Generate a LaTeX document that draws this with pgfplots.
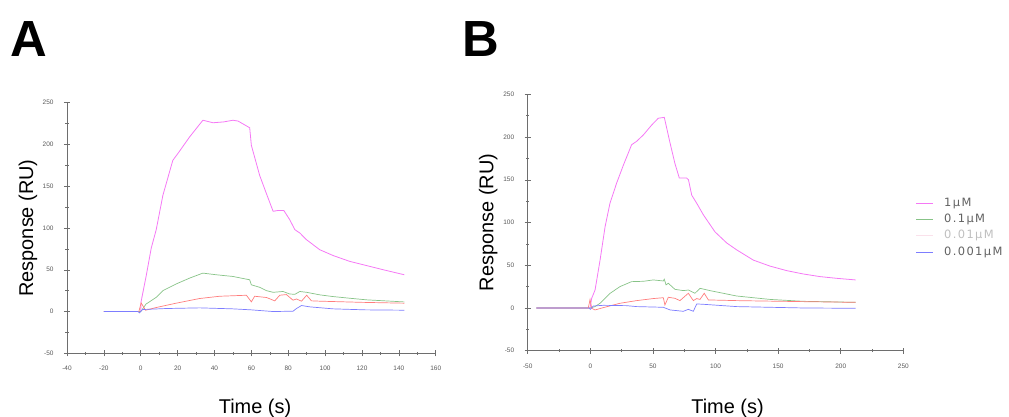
\documentclass[border=0pt]{standalone}
\usepackage{pgfplots}
\pgfplotsset{compat=1.18}
\usepackage{fontspec}
\setmainfont{Liberation Sans}
\newfontfamily\legfont[LetterSpace=12]{DejaVu Sans}

\definecolor{cPink}{RGB}{245,120,245}
\definecolor{cGreen}{RGB}{135,195,135}
\definecolor{cRed}{RGB}{255,125,125}
\definecolor{cBlue}{RGB}{125,125,255}
\definecolor{cFaint}{RGB}{250,225,235}
\definecolor{cAxis}{RGB}{110,110,110}

\pgfplotsset{
  spr/.style={
    scale only axis,
    axis x line*=bottom,
    axis y line*=left,
    axis line style={cAxis, line width=0.6pt},
    every tick/.style={cAxis, line width=0.5pt},
    tick align=center,
    major tick length=6bp,
    minor tick length=3bp,
    minor tick num=1,
    ymin=-50, ymax=250,
    ytick={-50,0,50,...,250},
    tick label style={font=\fontsize{6.5}{7.5}\selectfont, text=black!65},
    /pgf/number format/assume math mode=true,
    xticklabel style={yshift=-6.5bp},
    yticklabel style={xshift=-7bp},
    label style={font=\fontsize{20}{24}\selectfont},
    xlabel={Time (s)},
    ylabel={Response (RU)},
    clip=false,
  },
  pink line/.style={cPink, line width=0.8pt},
  green line/.style={cGreen, line width=0.7pt},
  red line/.style={cRed, line width=0.7pt},
  blue line/.style={cBlue, line width=0.7pt},
}

\begin{document}
\begin{tikzpicture}
\path[use as bounding box] (0bp,0bp) rectangle (1009bp,417bp);

\node[font=\fontsize{51}{52}\selectfont\bfseries] at (28.5bp,378bp) {A};
\node[font=\fontsize{51}{52}\selectfont\bfseries] at (481bp,378bp) {B};

% ---------- panel A ----------
\begin{axis}[spr,
  at={(67bp,63.7bp)}, anchor=south west,
  width=368.7bp, height=250.6bp,
  xmin=-40, xmax=160,
  xtick={-40,-20,...,160},
  xlabel style={at={(axis description cs:0.51,-0.22)}, anchor=center},
  ylabel style={at={(axis description cs:-0.106,0.5)}, anchor=center},
]
\addplot[pink line] coordinates {
 (-20,0) (0,0) (0.2,12) (2.9,42) (5.7,76) (8.4,98) (12,139) (17.4,181)
 (20.1,189) (26.5,209) (33.7,229) (39.2,226) (45,227) (50,229) (52.8,228)
 (59.1,220) (60,199) (64.5,163) (68.2,141) (71.8,120) (74.5,121) (77.6,121)
 (80.8,110) (83.6,98) (86.3,94) (89.9,86) (97.1,74) (104.4,67) (113.4,60)
 (122.5,55) (131.6,50) (143,44)
};
\addplot[green line] coordinates {
 (-20,0) (0,0) (2.9,9) (8.4,17) (12,25) (19.2,33) (26.5,40) (33.7,46)
 (41,44) (50,42) (59.1,38) (60,32) (64.5,29) (68.2,25) (71.8,23) (77.2,24)
 (80.8,21) (83.6,20.6) (86.3,24) (90,23) (97,20) (104,18) (113,16)
 (122.5,14) (143,11.5)
};
\addplot[red line] coordinates {
 (-20,0) (-1,0) (0.2,10.4) (1.5,5.6) (2.6,1.6) (8.4,4.8) (19.2,10) (32,15.6)
 (42.8,18.3) (57.3,19.5) (60,11.6) (61.8,18.3) (68.2,16.8) (72.7,12.8)
 (75.4,19.5) (79,20.3) (82.6,13.6) (84.5,15) (87.2,12.4) (90,19.5)
 (92.6,12.8) (97.1,12.4) (120,11) (143,10)
};
\addplot[blue line] coordinates {
 (-20,0) (-1.5,0) (-0.7,-1.6) (1,2.4) (13.8,3.6) (32,4.4) (50,3.2) (60,2)
 (71.8,0) (82.6,0.4) (84.5,3.6) (87.2,7.2) (91.7,5.6) (104.4,3.2)
 (122,2) (143,1.6)
};
\end{axis}

% ---------- panel B ----------
\begin{axis}[spr,
  at={(527.7bp,66.3bp)}, anchor=south west,
  width=375.6bp, height=256.4bp,
  xmin=-50, xmax=250,
  xtick={-50,0,...,250},
  xlabel style={at={(axis description cs:0.532,-0.225)}, anchor=center},
  ylabel style={at={(axis description cs:-0.105,0.5)}, anchor=center},
  legend style={at={(axis description cs:1.033,0.603)}, anchor=north west,
    draw=none, fill=none, inner sep=0pt,
    font=\legfont\fontsize{11.5}{13}\selectfont, text=black!62,
    row sep=2.8bp,
    nodes={inner sep=1.5bp, text height=8.5bp, text depth=2bp}},
  legend cell align=left,
  legend image code/.code={\draw[#1, line width=0.8pt] (0bp,0bp) -- (17bp,0bp);
    \path (26bp,0bp);},
]
\addplot[pink line] coordinates {
 (-43,0) (-0.2,0) (1.1,11.3) (3.8,21) (7.8,56) (11.8,95) (15.7,122.5)
 (21,146) (26.4,167) (33,191) (37,195) (42.4,202.5) (49,214) (54.3,222)
 (59.1,223) (63.7,193) (67.6,169) (71.1,152) (77,152) (78.4,150) (81,132)
 (85,122.5) (90.3,109) (99.6,89) (109,76) (116.9,68) (130.2,56)
 (143.5,49) (156.8,43.7) (170,39.8) (183.4,36.7) (196.7,34.7) (211.9,32.8)
};
\addlegendentry{1µM}
\addplot[green line] coordinates {
 (-43,0) (0,0) (3.8,1.6) (7.8,5.5) (15.7,17) (23.7,25) (33,30.8)
 (42.4,31.2) (50.3,32.8) (58.3,31.6) (59.1,33.6) (60.5,27) (62.3,28.9)
 (67.6,21.8) (74.3,20.3) (78.3,21) (83.6,17.2) (87.6,23) (95.6,20.3)
 (116.9,14) (143.5,10) (170,7.8) (211.9,6.6)
};
\addlegendentry{0.1µM}
\addlegendimage{cFaint}
\addlegendentry{\textcolor{black!25}{0.01µM}}
\addplot[red line, forget plot] coordinates {
 (-43,0) (-1.6,0) (-0.2,10) (1.1,-0.4) (3.8,-2.3) (10.4,0.4) (23.7,5.5)
 (37,8.6) (50.3,11) (58.3,12) (59.6,3.5) (62.3,12.5) (67.6,11.3)
 (71.6,8.6) (78.3,17.2) (82.3,8.6) (85,11) (87.6,10) (91,17.2) (94.3,9.4)
 (116.9,8.6) (170,7.4) (211.9,6.6)
};
\addplot[blue line] coordinates {
 (-43,0) (-1,0) (0,-1.6) (2.4,2.3) (10.4,3.1) (29,2.7) (37,1.6) (58.3,0.8)
 (63.7,-2.3) (74.3,-3.9) (78.3,-1.6) (82.3,-3.9) (85,4.7) (90.3,4.3)
 (116.9,1.6) (170,0) (211.9,-0.4)
};
\addlegendentry{0.001µM}
\end{axis}
\end{tikzpicture}
\end{document}
